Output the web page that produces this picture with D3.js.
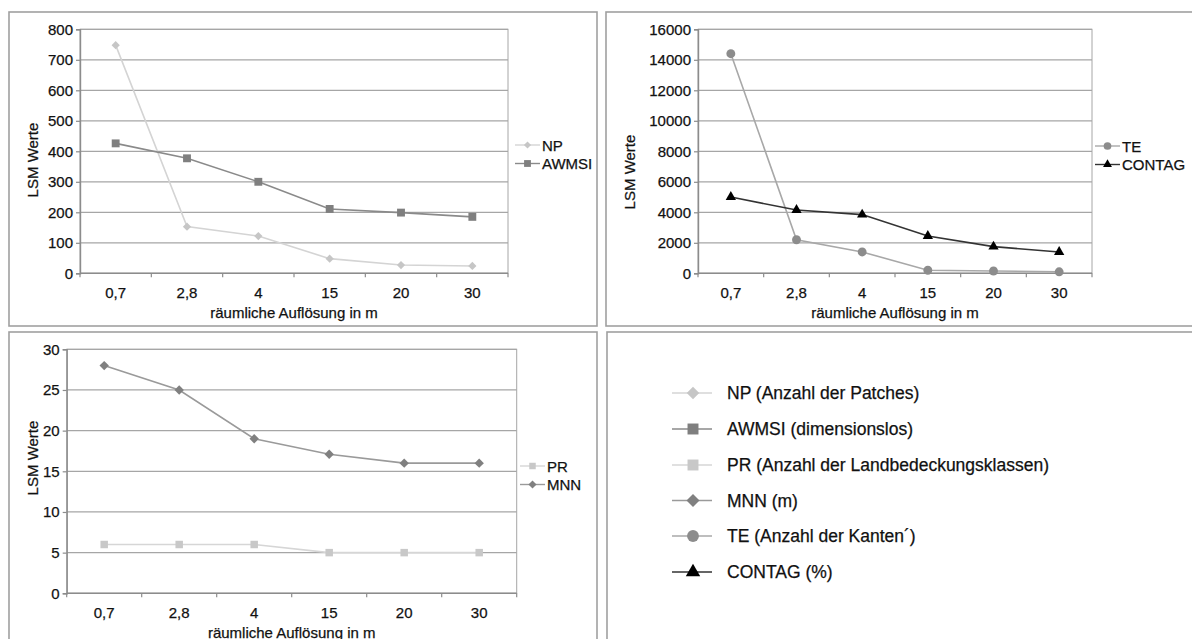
<!DOCTYPE html>
<html>
<head>
<meta charset="utf-8">
<script src="https://cdn.jsdelivr.net/npm/d3@7"></script>
<style>
  html, body { margin: 0; padding: 0; background: #fff; }
  svg { display: block; font-family: "Liberation Sans", Arial, sans-serif; }
</style>
</head>
<body>
<svg id="chart" width="1192" height="639"></svg>
<script>
// Spatial resolution categories (m)
const resolutions = ["0,7", "2,8", "4", "15", "20", "30"];

// Landscape metrics per resolution
const npValues     = [748, 153, 122, 48, 27, 24];
const awmsiValues  = [426, 377, 300, 211, 199, 185];
const teValues     = [14400, 2200, 1400, 200, 150, 100];
const contagValues = [5000, 4150, 3850, 2450, 1750, 1400];
const prValues     = [6, 6, 6, 5, 5, 5];
const mnnValues    = [28, 25, 19, 17.1, 16, 16];

// Y tick values per chart
const ticksA = [0, 100, 200, 300, 400, 500, 600, 700, 800];
const ticksB = [0, 2000, 4000, 6000, 8000, 10000, 12000, 14000, 16000];
const ticksC = [0, 5, 10, 15, 20, 25, 30];

// Legend texts
const shortNames = ["NP", "AWMSI", "TE", "CONTAG", "PR", "MNN"];
const longNames = [
  "NP (Anzahl der Patches)",
  "AWMSI (dimensionslos)",
  "PR (Anzahl der Landbedeckungsklassen)",
  "MNN (m)",
  "TE (Anzahl der Kanten´)",
  "CONTAG (%)"
];

const xTitle = "räumliche Auflösung in m";
const yTitle = "LSM Werte";

const svg = d3.select("#chart");
const textColor = "#111";
const gridColor = "#a6a6a6";
const frameColor = "#a0a0a0";

// Marker styles
const styles = {
  NP:     { shape: "diamond",  fill: "#c6c6c6", line: "#d4d4d4", size: 34, big: 78 },
  AWMSI:  { shape: "square",   fill: "#7f7f7f", line: "#8a8a8a", size: 62, big: 120 },
  PR:     { shape: "square",   fill: "#c8c8c8", line: "#d6d6d6", size: 56, big: 120 },
  MNN:    { shape: "diamond",  fill: "#808080", line: "#9a9a9a", size: 44, big: 84 },
  TE:     { shape: "circle",   fill: "#8c8c8c", line: "#a8a8a8", size: 62, big: 110 },
  CONTAG: { shape: "triangle", fill: "#000000", line: "#333333", size: 46, big: 90 }
};

function symbolPath(shape, size) {
  if (shape === "diamond") return d3.symbol(d3.symbolSquare, size)();
  if (shape === "square") return d3.symbol(d3.symbolSquare, size)();
  if (shape === "circle") return d3.symbol(d3.symbolCircle, size)();
  return d3.symbol(d3.symbolTriangle, size)();
}
function symbolTransform(shape, x, y) {
  return shape === "diamond" ? `translate(${x},${y}) rotate(45)` : `translate(${x},${y})`;
}

function styleText(sel, size) {
  sel.attr("font-size", size).attr("fill", textColor)
    .attr("stroke", textColor).attr("stroke-width", 0.25)
    .attr("font-family", "Liberation Sans, Arial, sans-serif");
}

function panelFrame(x, y, w, h) {
  svg.append("rect")
    .attr("x", x).attr("y", y).attr("width", w).attr("height", h)
    .attr("fill", "#fff").attr("stroke", frameColor).attr("stroke-width", 1.6);
}

function drawChart(cfg) {
  panelFrame(cfg.box[0], cfg.box[1], cfg.box[2], cfg.box[3]);
  const g = svg.append("g");

  const x = d3.scaleBand().domain(resolutions).range([cfg.left, cfg.right]);
  const y = d3.scaleLinear().domain([0, cfg.ticks[cfg.ticks.length - 1]]).range([cfg.bottom, cfg.top]);
  const cx = c => x(c) + x.bandwidth() / 2;

  // plot area frame
  g.append("rect")
    .attr("x", cfg.left).attr("y", cfg.top)
    .attr("width", cfg.right - cfg.left).attr("height", cfg.bottom - cfg.top)
    .attr("fill", "#fff").attr("stroke", gridColor).attr("stroke-width", 1);

  // horizontal gridlines
  g.append("g").selectAll("line").data(cfg.ticks.slice(1)).join("line")
    .attr("x1", cfg.left).attr("x2", cfg.right)
    .attr("y1", d => y(d)).attr("y2", d => y(d))
    .attr("stroke", gridColor).attr("stroke-width", 1.2);

  // y axis
  const yAxis = g.append("g").attr("transform", `translate(${cfg.left},0)`)
    .call(d3.axisLeft(y).tickValues(cfg.ticks).tickSize(4).tickPadding(3).tickFormat(d3.format("d")));
  yAxis.select(".domain").attr("stroke", "#8c8c8c").attr("stroke-width", 1.4);
  yAxis.selectAll(".tick line").attr("stroke", "#8c8c8c").attr("stroke-width", 1.2);
  styleText(yAxis.selectAll("text"), 15);

  // x axis: labels centered on categories, tick marks at category boundaries
  const xAxis = g.append("g").attr("transform", `translate(0,${cfg.bottom})`)
    .call(d3.axisBottom(x).tickSize(0).tickPadding(14));
  xAxis.select(".domain").remove();
  styleText(xAxis.selectAll("text"), 15);
  g.append("line")
    .attr("x1", cfg.left).attr("x2", cfg.right)
    .attr("y1", cfg.bottom).attr("y2", cfg.bottom)
    .attr("stroke", "#8c8c8c").attr("stroke-width", 1.4);
  const bounds = resolutions.map(r => x(r)).concat([x(resolutions[resolutions.length - 1]) + x.step()]);
  g.append("g").selectAll("line").data(bounds).join("line")
    .attr("x1", d => d).attr("x2", d => d)
    .attr("y1", cfg.bottom).attr("y2", cfg.bottom + 4)
    .attr("stroke", "#8c8c8c").attr("stroke-width", 1.2);

  // axis titles
  styleText(g.append("text")
    .attr("x", (cfg.left + cfg.right) / 2).attr("y", cfg.xTitleY)
    .attr("text-anchor", "middle").attr("dominant-baseline", "central")
    .text(xTitle), 15);
  styleText(g.append("text")
    .attr("transform", `translate(${cfg.yTitleX},${cfg.yTitleY}) rotate(-90)`)
    .attr("text-anchor", "middle").attr("dominant-baseline", "central")
    .text(yTitle), 15);

  // series
  const line = d3.line().x(d => cx(d.c)).y(d => y(d.v));
  cfg.series.forEach(s => {
    const st = styles[s.name];
    const pts = resolutions.map((c, i) => ({ c, v: s.values[i] }));
    g.append("path").datum(pts).attr("d", line)
      .attr("fill", "none").attr("stroke", st.line).attr("stroke-width", 1.6);
    g.append("g").selectAll("path").data(pts).join("path")
      .attr("d", symbolPath(st.shape, st.size))
      .attr("transform", d => symbolTransform(st.shape, cx(d.c), y(d.v)))
      .attr("fill", st.fill);
  });

  // legend
  cfg.series.forEach((s, i) => {
    const st = styles[s.name];
    const ly = cfg.legend.y + i * cfg.legend.dy;
    g.append("line")
      .attr("x1", cfg.legend.x0).attr("x2", cfg.legend.x1)
      .attr("y1", ly).attr("y2", ly)
      .attr("stroke", st.line).attr("stroke-width", 1.4);
    g.append("path")
      .attr("d", symbolPath(st.shape, st.size * 0.75))
      .attr("transform", symbolTransform(st.shape, (cfg.legend.x0 + cfg.legend.x1) / 2, ly))
      .attr("fill", st.fill);
    styleText(g.append("text")
      .attr("x", cfg.legend.x1 + 2).attr("y", ly)
      .attr("dominant-baseline", "central")
      .text(s.name), 15);
  });
}

drawChart({
  box: [9, 12, 588, 314],
  left: 80, right: 508, top: 29.3, bottom: 273.3,
  ticks: ticksA,
  xTitleY: 312, yTitleX: 32, yTitleY: 160,
  series: [{ name: shortNames[0], values: npValues }, { name: shortNames[1], values: awmsiValues }],
  legend: { x0: 515, x1: 540, y: 145, dy: 18.5 }
});

drawChart({
  box: [606, 12, 600, 314],
  left: 698, right: 1092, top: 29.3, bottom: 273.3,
  ticks: ticksB,
  xTitleY: 312, yTitleX: 629, yTitleY: 172,
  series: [{ name: shortNames[2], values: teValues }, { name: shortNames[3], values: contagValues }],
  legend: { x0: 1095, x1: 1120, y: 146, dy: 18.5 }
});

drawChart({
  box: [9, 332, 588, 320],
  left: 66.7, right: 516.7, top: 349.3, bottom: 593.3,
  ticks: ticksC,
  xTitleY: 632, yTitleX: 32, yTitleY: 458,
  series: [{ name: shortNames[4], values: prValues }, { name: shortNames[5], values: mnnValues }],
  legend: { x0: 520, x1: 545, y: 466, dy: 18.5 }
});

// Combined legend panel
panelFrame(607, 332, 600, 320);
const legendKeys = ["NP", "AWMSI", "PR", "MNN", "TE", "CONTAG"];
const legendRows = [393, 429, 465, 500.5, 536, 572];
const lg = svg.append("g");
legendKeys.forEach((k, i) => {
  const st = styles[k];
  const ly = legendRows[i];
  lg.append("line").attr("x1", 672).attr("x2", 712).attr("y1", ly).attr("y2", ly)
    .attr("stroke", st.line).attr("stroke-width", 1.6);
  lg.append("path")
    .attr("d", symbolPath(st.shape, st.big))
    .attr("transform", symbolTransform(st.shape, 693, ly))
    .attr("fill", st.fill);
  styleText(lg.append("text").attr("x", 727).attr("y", ly)
    .attr("dominant-baseline", "central")
    .text(longNames[i]), 17.5);
});
</script>
</body>
</html>
